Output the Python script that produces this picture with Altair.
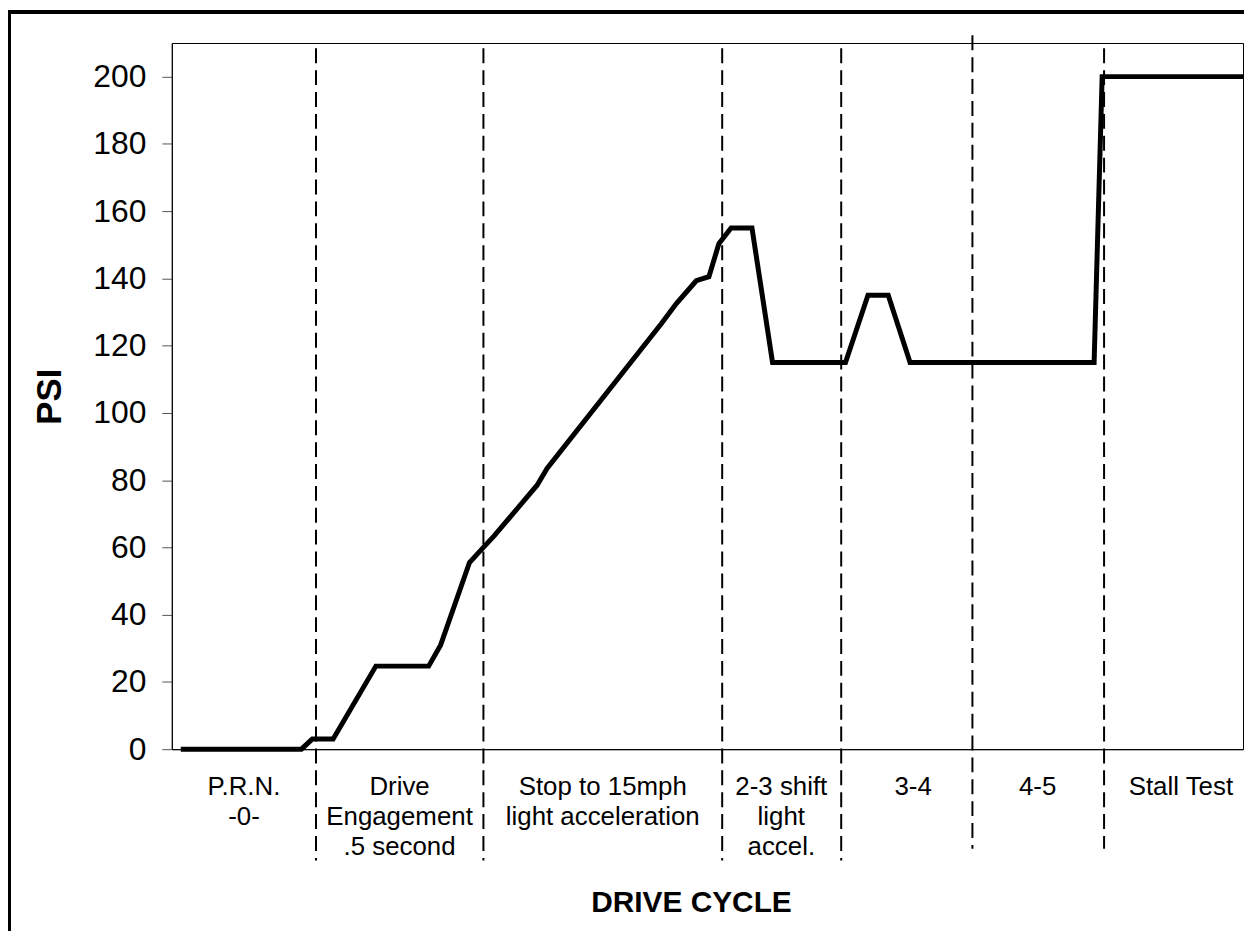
import altair as alt
import pandas as pd

# ---- data ----
time = [0.84, 12.1, 13.11, 15.06, 19.05, 23.98, 25.1, 27.79, 29.09, 30.11, 34.1, 35.03,
        45.71, 47.10, 48.96, 50.14, 51.07, 52.21, 54.16, 56.08, 62.89, 64.99, 66.88,
        68.92, 86.1, 86.85, 100.0]
psi = [0, 0, 3, 3, 24.7, 24.7, 31, 55.5, 60, 63.5, 78.5, 83.5,
       126.6, 132.5, 139.3, 140.5, 150.3, 155, 155, 115, 115, 135, 135,
       115, 115, 200, 200]

div_long = [13.46, 29.09, 51.38, 62.49]
div_mid = [74.74]
div_short = [87.03]

phase_labels = ["P.R.N.\n-0-", "Drive\nEngagement\n.5 second",
                "Stop to 15mph\nlight acceleration", "2-3 shift\nlight\naccel.",
                "3-4", "4-5", "Stall Test"]
phase_centers = [6.74, 21.26, 40.23, 56.9, 69.2, 80.83, 94.2]

y_ticks = [0, 20, 40, 60, 80, 100, 120, 140, 160, 180, 200]

FONT = "Liberation Sans"
W, H = 1077, 710

line_df = pd.DataFrame({"t": time, "psi": psi})
lab_df = pd.DataFrame({"label": phase_labels, "t": phase_centers})

xscale = alt.Scale(domain=[0, 100], nice=False, zero=False)
yscale = alt.Scale(domain=[0, 210], nice=False)

xaxis = alt.Axis(title="DRIVE CYCLE", labels=False, ticks=False, grid=False,
                 domain=True, domainColor="black", titleFontSize=30,
                 titleFont=FONT, titleFontWeight="bold", titleColor="black",
                 titleX=522, titleY=154, titleBaseline="middle", titleAlign="center")
yaxis = alt.Axis(title="PSI", values=y_ticks, grid=False, tickSize=10,
                 tickColor="#555", domainColor="black", labelFontSize=32,
                 labelFont=FONT, labelColor="black", labelPadding=16,
                 titleFontSize=35, titleFont=FONT, titleFontWeight="bold",
                 titleColor="black", titleX=-123, titleY=355, titleAngle=-90,
                 titleBaseline="middle", titleAlign="center")

line = alt.Chart(line_df).mark_line(color="black", strokeWidth=5, strokeJoin="miter").encode(
    x=alt.X("t:Q", scale=xscale, axis=xaxis),
    y=alt.Y("psi:Q", scale=yscale, axis=yaxis),
)

def rules(vals, top, bottom):
    return alt.Chart(pd.DataFrame({"t": vals})).mark_rule(
        color="black", strokeWidth=2, strokeDash=[15, 7]
    ).encode(x=alt.X("t:Q", scale=xscale), y=alt.value(top), y2=alt.value(bottom))

r1 = rules(div_long, 5.3, 822)
r2 = rules(div_mid, -7.7, 810)
r3 = rules(div_short, 5.3, 810)

labels = alt.Chart(lab_df).mark_text(
    font=FONT, fontSize=26, color="black", lineBreak="\n", lineHeight=30,
    align="center", baseline="alphabetic"
).encode(x=alt.X("t:Q", scale=xscale), y=alt.value(756), text="label:N")

frame = alt.Chart(line_df).mark_rect(
    fill="transparent", stroke="black", strokeWidth=2.5
).encode(x=alt.value(-163.2), x2=alt.value(1300), y=alt.value(-31.2), y2=alt.value(1000))

chart = alt.layer(frame, line, r1, r2, r3, labels).properties(
    width=W, height=H,
    autosize=alt.AutoSizeParams(type="none"),
    padding={"left": 164.7, "top": 32.7, "right": 1, "bottom": 180},
    background="white",
).configure_view(stroke="black", strokeWidth=1)

chart.save("out.html", embed_options={"renderer": "svg", "actions": False})
